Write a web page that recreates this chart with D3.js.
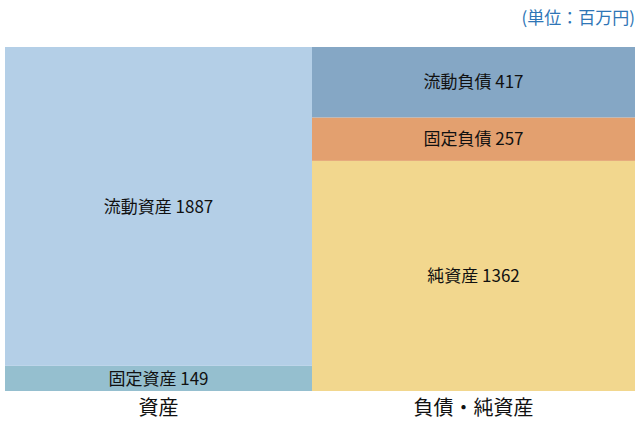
<!DOCTYPE html>
<html lang="ja">
<head>
    <meta charset="utf-8">
    <title>貸借対照表</title>
    <script type="text/javascript" src="https://d3js.org/d3.v7.min.js"></script>
    <style>
        body { margin: 0; background: #fff; }
        text { font-family: "Noto Sans CJK JP", "Noto Sans", sans-serif; }
    </style>
</head>
<body>
    <div id="viz"></div>

    <script type="text/javascript">
        // data
        const columns = ["資産", "負債・純資産"];
        const segColumn = ["資産", "資産", "負債・純資産", "負債・純資産", "負債・純資産"];
        const segNames = ["固定資産", "流動資産", "純資産", "固定負債", "流動負債"];
        const segValues = [149, 1887, 1362, 257, 417];
        const segColors = ["#95bfcf", "#b4cfe7", "#f2d78e", "#e3a06f", "#85a7c5"];
        const unitLabel = "(単位：百万円)";

        const width = 639;
        const height = 427;
        const margin = {top: 47, right: 4, bottom: 36, left: 5};
        const leftCut = 16; // first column is cut by the left edge of the plot

        const svg = d3.select("#viz")
            .append("svg")
            .attr("width", width)
            .attr("height", height);

        // stack segments per column
        const segs = [];
        const totals = {};
        segValues.forEach((v, i) => {
            const c = segColumn[i];
            const y0 = totals[c] || 0;
            segs.push({col: c, name: segNames[i], value: v, y0: y0, y1: y0 + v, color: segColors[i]});
            totals[c] = y0 + v;
        });

        const xScale = d3.scaleBand()
            .domain(columns)
            .range([margin.left - leftCut, width - margin.right])
            .padding(0);

        // visible part of a column
        const colX0 = c => Math.max(xScale(c), margin.left);
        const colX1 = c => Math.min(xScale(c) + xScale.bandwidth(), width - margin.right);
        const colMid = c => (colX0(c) + colX1(c)) / 2;

        const yScale = d3.scaleLinear()
            .domain([0, d3.max(Object.values(totals))])
            .range([height - margin.bottom, margin.top]);

        svg.append("g")
            .selectAll("rect")
            .data(segs)
            .enter()
            .append("rect")
                .attr("x", d => colX0(d.col))
                .attr("y", d => yScale(d.y1))
                .attr("width", d => colX1(d.col) - colX0(d.col))
                .attr("height", d => yScale(d.y0) - yScale(d.y1))
                .attr("fill", d => d.color);

        svg.append("g")
            .selectAll("text")
            .data(segs)
            .enter()
            .append("text")
                .attr("x", d => colMid(d.col))
                .attr("y", d => (yScale(d.y0) + yScale(d.y1)) / 2)
                .attr("dy", "0.36em")
                .attr("text-anchor", "middle")
                .attr("font-size", 17)
                .attr("fill", "#111")
                .text(d => d.name + " " + d.value);

        // category labels under the columns
        svg.append("g")
            .selectAll("text")
            .data(columns)
            .enter()
            .append("text")
                .attr("x", d => colMid(d))
                .attr("y", height - margin.bottom + 10)
                .attr("dy", "0.71em")
                .attr("text-anchor", "middle")
                .attr("font-size", 20)
                .attr("fill", "#111")
                .text(d => d);

        svg.append("text")
            .attr("x", width - 4)
            .attr("y", 24)
            .attr("text-anchor", "end")
            .attr("font-size", 17)
            .attr("fill", "#2e75b6")
            .text(unitLabel);
    </script>
</body>
</html>
